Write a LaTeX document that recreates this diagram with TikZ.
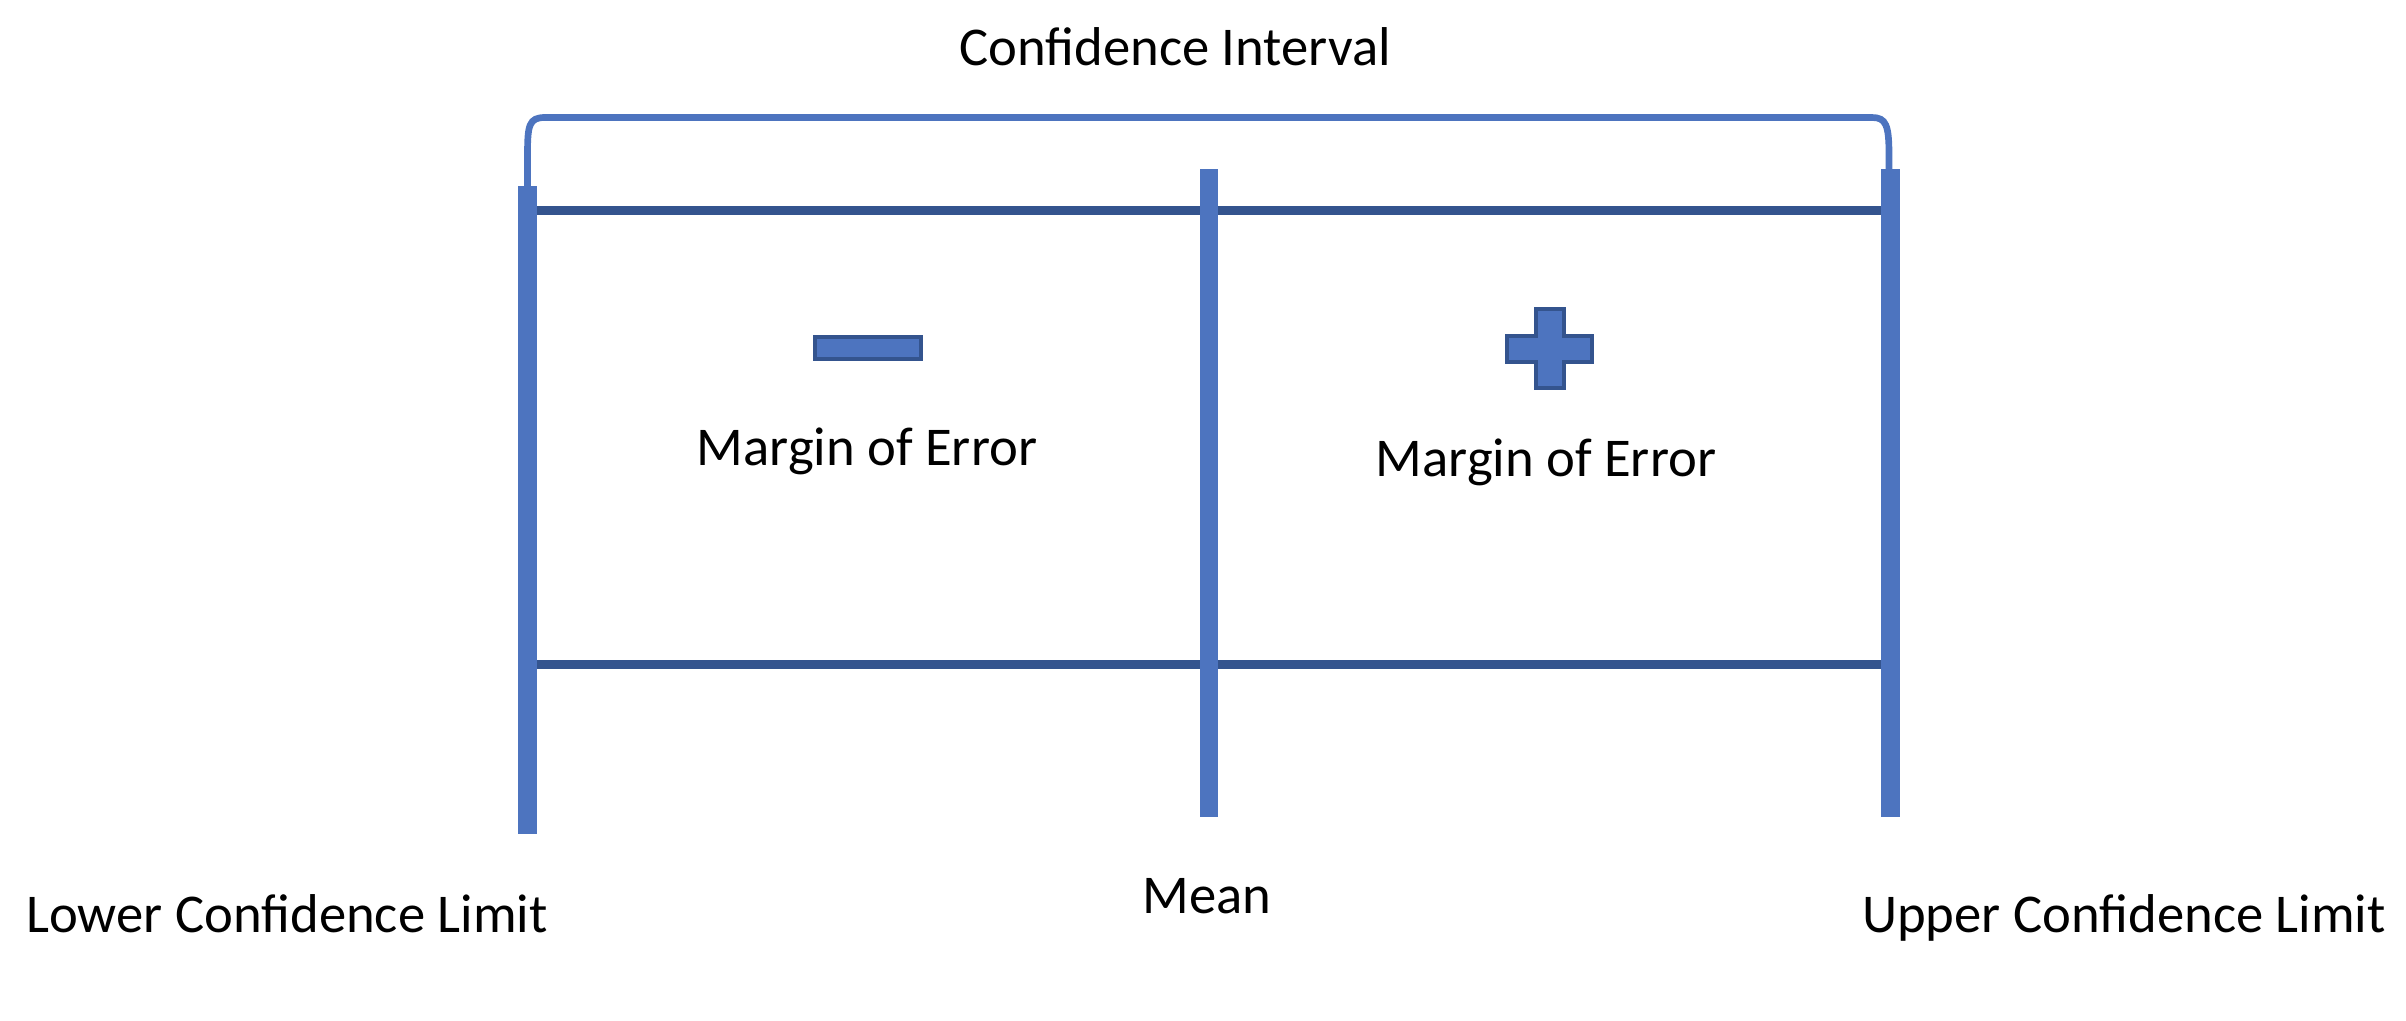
\documentclass[tikz,border=0pt]{standalone}
\usepackage{fontspec}
\setmainfont{Carlito}
\definecolor{barblue}{HTML}{4D74BF}
\definecolor{darkblue}{HTML}{34548E}
\begin{document}
\begin{tikzpicture}[x=0.3pt,y=-0.3pt,
  lbl/.style={font=\fontsize{16.4pt}{19pt}\selectfont, anchor=base, inner sep=0pt},
  barfill/.style={fill=barblue, draw=none},
  hline/.style={draw=darkblue, line width=2.7pt},
  bracket/.style={draw=barblue, line width=2pt},
  sign/.style={fill=barblue, draw=darkblue, line width=1pt}]
\useasboundingbox (0,0) rectangle (2406,1020);
% bar end points
\coordinate (ltop) at (527.5,186);
\coordinate (lbot) at (527.5,834);
\coordinate (mtop) at (1209,169);
\coordinate (mbot) at (1209,817);
\coordinate (rtop) at (1890.5,169);
\coordinate (rbot) at (1890.5,817);
% horizontal lines
\coordinate (h1l) at (537,210.5);
\coordinate (h1r) at (1881,210.5);
\coordinate (h2l) at (537,664.5);
\coordinate (h2r) at (1881,664.5);
\draw[hline] (h1l) -- (h1r);
\draw[hline] (h2l) -- (h2r);
% bracket
\coordinate (bl) at (527.5,188);
\coordinate (br) at (1889,171);
\draw[bracket] (bl) -- (527.5,155) .. controls (527.5,125) and (529,117.5) .. (545,117.5) -- (1872,117.5) .. controls (1886,117.5) and (1889,125) .. (1889,155) -- (br);
% bars
\fill[barfill] (518,186) rectangle (537,834);
\fill[barfill] (1200,169) rectangle (1218,817);
\fill[barfill] (1881,169) rectangle (1900,817);
% minus sign
\draw[sign] (815,337) rectangle (921,359);
% plus sign
\draw[sign] (1536,309) -- (1564,309) -- (1564,336) -- (1592,336) -- (1592,362) -- (1564,362) -- (1564,388) -- (1536,388) -- (1536,362) -- (1507,362) -- (1507,336) -- (1536,336) -- cycle;
% labels
\node[lbl] (ci) at (1175,65) {Confidence Interval};
\node[lbl] (moe1) at (867,465) {Margin of Error};
\node[lbl] (moe2) at (1546,476) {Margin of Error};
\node[lbl] (lcl) at (287,932) {Lower Confidence Limit};
\node[lbl] (mean) at (1207,913) {Mean};
\node[lbl] (ucl) at (2124,932) {Upper Confidence Limit};
\end{tikzpicture}
\end{document}
